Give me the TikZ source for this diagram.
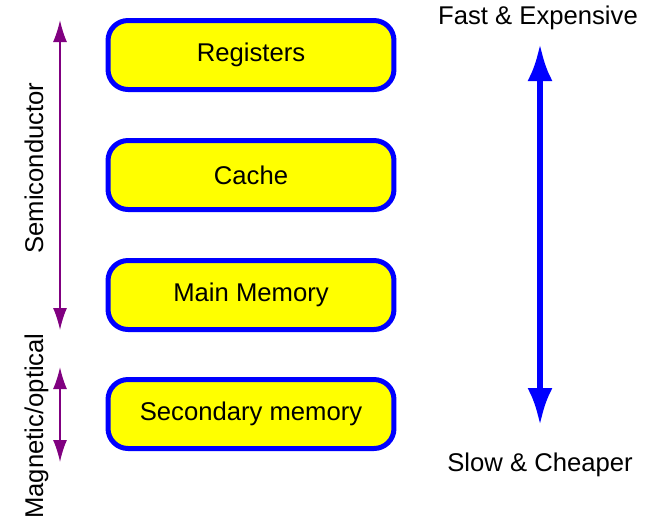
\documentclass[tikz,border=0pt]{standalone}
\usepackage{fontspec}
\setmainfont{Liberation Sans}
\usetikzlibrary{arrows.meta}
\definecolor{boxYellow}{RGB}{255,255,0}
\definecolor{boxBlue}{RGB}{0,0,255}
\definecolor{rangePurple}{RGB}{128,0,128}
\tikzstyle{memnode}=[draw=boxBlue, fill=boxYellow, line width=0.1cm, rounded corners=0.4cm, minimum width=5.72cm, minimum height=1.38cm, inner sep=0pt]
\tikzstyle{rangeArrow}=[rangePurple, line width=0.03cm, {Latex[length=0.44cm,width=0.28cm]}-{Latex[length=0.44cm,width=0.28cm]}]
\tikzstyle{speedArrow}=[boxBlue, line width=0.12cm, {Latex[length=0.74cm,width=0.5cm]}-{Latex[length=0.74cm,width=0.5cm]}]
\tikzstyle{sidelabel}=[rotate=90, anchor=base, inner sep=0pt]

\begin{document}
\begin{tikzpicture}[x=0.02cm, y=-0.02cm, font=\fontsize{14.6}{18}\selectfont]
    \useasboundingbox (0,0) rectangle (658,522);

    \node[memnode] (reg) at (251, 55) {Registers};
    \node[memnode] (cache) at (251, 175) {Cache};
    \node[memnode] (mainmem) at (251, 295) {Main Memory};
    \node[memnode] (secmem) at (251, 414) {Secondary memory};

    % Technology ranges
    \coordinate (semiTop) at (60, 20);
    \coordinate (semiBot) at (60, 330);
    \coordinate (magTop) at (60, 367);
    \coordinate (magBot) at (60, 462);
    \draw[rangeArrow] (semiTop) -- (semiBot);
    \draw[rangeArrow] (magTop) -- (magBot);
    \node[sidelabel] (semi) at (43, 168) {Semiconductor};
    \node[sidelabel] (mag) at (43, 426) {Magnetic/optical};

    % Speed and cost
    \node (fast) at (538, 18) {Fast \& Expensive};
    \node (slow) at (540, 465) {Slow \& Cheaper};
    \coordinate (speedTop) at (540, 44);
    \coordinate (speedBot) at (540, 425);
    \draw[speedArrow] (speedTop) -- (speedBot);

\end{tikzpicture}
\end{document}
